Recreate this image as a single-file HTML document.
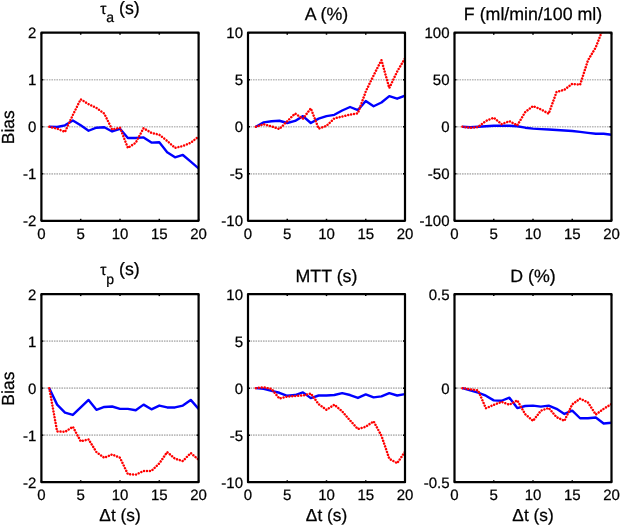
<!DOCTYPE html>
<html><head><meta charset="utf-8"><style>
html,body{margin:0;padding:0;background:#fff;}
body{width:620px;height:525px;overflow:hidden;}
svg{display:block;filter:blur(0.3px);}
text{font-family:"Liberation Sans",sans-serif;fill:#000;stroke:#000;stroke-width:0.25px;text-rendering:geometricPrecision;}
.tk{font-size:15px;}
.lb{font-size:17.8px;}
.ax{fill:none;stroke:#000;stroke-width:2.2;stroke-linejoin:round;}
.t{stroke:#000;stroke-width:1.5;}
.g{stroke:#bcbcbc;stroke-width:1.7;stroke-dasharray:1.6 0.9;}
.b{fill:none;stroke:#0000ff;stroke-width:2.4;stroke-linejoin:round;}
.r{fill:none;stroke:#ff0000;stroke-width:2.5;stroke-dasharray:0.01 2.95;stroke-linecap:round;stroke-linejoin:round;}
</style></head><body>
<svg width="620" height="525" viewBox="0 0 620 525">
<defs><clipPath id="c0"><rect x="41.40" y="32.70" width="157.20" height="188.10"/></clipPath>
<clipPath id="c1"><rect x="248.00" y="32.70" width="157.00" height="188.10"/></clipPath>
<clipPath id="c2"><rect x="454.50" y="32.70" width="157.00" height="188.10"/></clipPath>
<clipPath id="c3"><rect x="41.40" y="294.10" width="157.20" height="188.10"/></clipPath>
<clipPath id="c4"><rect x="248.00" y="294.10" width="157.00" height="188.10"/></clipPath>
<clipPath id="c5"><rect x="454.50" y="294.10" width="157.00" height="188.10"/></clipPath></defs>
<line class="g" x1="41.40" y1="79.73" x2="198.60" y2="79.73"/>
<line class="g" x1="41.40" y1="126.75" x2="198.60" y2="126.75"/>
<line class="g" x1="41.40" y1="173.78" x2="198.60" y2="173.78"/>
<g clip-path="url(#c0)"><polyline class="b" points="49.26,126.75 57.12,126.99 64.98,125.34 72.84,120.40 80.70,125.34 88.56,130.75 96.42,127.69 104.28,127.22 112.14,131.45 120.00,128.82 127.86,137.94 135.72,137.94 143.58,137.42 151.44,142.60 159.30,142.27 167.16,152.14 175.02,157.32 182.88,154.97 190.74,161.55 198.60,168.37"/><polyline class="r" points="49.26,126.75 57.12,128.63 64.98,131.92 72.84,114.99 80.70,99.24 88.56,104.18 96.42,107.94 104.28,113.58 112.14,129.57 120.00,127.69 127.86,147.91 135.72,142.74 143.58,128.16 151.44,132.86 159.30,134.74 167.16,140.86 175.02,147.91 182.88,146.03 190.74,142.74 198.60,136.63"/></g>
<line class="t" x1="41.40" y1="220.80" x2="41.40" y2="218.80"/>
<line class="t" x1="41.40" y1="32.70" x2="41.40" y2="34.70"/>
<text class="tk" x="41.40" y="238.50" text-anchor="middle">0</text>
<line class="t" x1="80.70" y1="220.80" x2="80.70" y2="218.80"/>
<line class="t" x1="80.70" y1="32.70" x2="80.70" y2="34.70"/>
<text class="tk" x="80.70" y="238.50" text-anchor="middle">5</text>
<line class="t" x1="120.00" y1="220.80" x2="120.00" y2="218.80"/>
<line class="t" x1="120.00" y1="32.70" x2="120.00" y2="34.70"/>
<text class="tk" x="120.00" y="238.50" text-anchor="middle">10</text>
<line class="t" x1="159.30" y1="220.80" x2="159.30" y2="218.80"/>
<line class="t" x1="159.30" y1="32.70" x2="159.30" y2="34.70"/>
<text class="tk" x="159.30" y="238.50" text-anchor="middle">15</text>
<line class="t" x1="198.60" y1="220.80" x2="198.60" y2="218.80"/>
<line class="t" x1="198.60" y1="32.70" x2="198.60" y2="34.70"/>
<text class="tk" x="198.60" y="238.50" text-anchor="middle">20</text>
<line class="t" x1="41.40" y1="32.70" x2="43.40" y2="32.70"/>
<line class="t" x1="198.60" y1="32.70" x2="196.60" y2="32.70"/>
<text class="tk" x="36.40" y="38.20" text-anchor="end">2</text>
<line class="t" x1="41.40" y1="79.73" x2="43.40" y2="79.73"/>
<line class="t" x1="198.60" y1="79.73" x2="196.60" y2="79.73"/>
<text class="tk" x="36.40" y="85.23" text-anchor="end">1</text>
<line class="t" x1="41.40" y1="126.75" x2="43.40" y2="126.75"/>
<line class="t" x1="198.60" y1="126.75" x2="196.60" y2="126.75"/>
<text class="tk" x="36.40" y="132.25" text-anchor="end">0</text>
<line class="t" x1="41.40" y1="173.78" x2="43.40" y2="173.78"/>
<line class="t" x1="198.60" y1="173.78" x2="196.60" y2="173.78"/>
<text class="tk" x="36.40" y="179.28" text-anchor="end">-1</text>
<line class="t" x1="41.40" y1="220.80" x2="43.40" y2="220.80"/>
<line class="t" x1="198.60" y1="220.80" x2="196.60" y2="220.80"/>
<text class="tk" x="36.40" y="226.30" text-anchor="end">-2</text>
<rect class="ax" x="41.40" y="32.70" width="157.20" height="188.10"/>
<text class="lb" x="120.00" y="13.80" text-anchor="middle"><tspan font-size="15.5">&#964;</tspan><tspan font-size="14" dy="8.3">a</tspan><tspan dy="-8.3"> (s)</tspan></text>
<text class="lb" transform="translate(13.7,127.25) rotate(-90)" text-anchor="middle" style="font-size:17.5px">Bias</text>
<line class="g" x1="248.00" y1="79.73" x2="405.00" y2="79.73"/>
<line class="g" x1="248.00" y1="126.75" x2="405.00" y2="126.75"/>
<line class="g" x1="248.00" y1="173.78" x2="405.00" y2="173.78"/>
<g clip-path="url(#c1)"><polyline class="b" points="255.85,126.75 263.70,122.42 271.55,121.20 279.40,120.73 287.25,122.99 295.10,120.92 302.95,116.12 310.80,122.99 318.65,118.66 326.50,116.12 334.35,114.81 342.20,110.48 350.05,107.00 357.90,110.10 365.75,100.98 373.60,106.25 381.45,102.49 389.30,96.18 397.15,98.72 405.00,95.71"/><polyline class="r" points="255.85,126.75 263.70,124.21 271.55,126.37 279.40,129.01 287.25,121.20 295.10,113.49 302.95,118.66 310.80,108.32 318.65,128.63 326.50,125.81 334.35,118.38 342.20,116.50 350.05,114.62 357.90,113.30 365.75,91.48 373.60,75.40 381.45,60.16 389.30,88.10 397.15,71.54 405.00,58.28"/></g>
<line class="t" x1="248.00" y1="220.80" x2="248.00" y2="218.80"/>
<line class="t" x1="248.00" y1="32.70" x2="248.00" y2="34.70"/>
<text class="tk" x="248.00" y="238.50" text-anchor="middle">0</text>
<line class="t" x1="287.25" y1="220.80" x2="287.25" y2="218.80"/>
<line class="t" x1="287.25" y1="32.70" x2="287.25" y2="34.70"/>
<text class="tk" x="287.25" y="238.50" text-anchor="middle">5</text>
<line class="t" x1="326.50" y1="220.80" x2="326.50" y2="218.80"/>
<line class="t" x1="326.50" y1="32.70" x2="326.50" y2="34.70"/>
<text class="tk" x="326.50" y="238.50" text-anchor="middle">10</text>
<line class="t" x1="365.75" y1="220.80" x2="365.75" y2="218.80"/>
<line class="t" x1="365.75" y1="32.70" x2="365.75" y2="34.70"/>
<text class="tk" x="365.75" y="238.50" text-anchor="middle">15</text>
<line class="t" x1="405.00" y1="220.80" x2="405.00" y2="218.80"/>
<line class="t" x1="405.00" y1="32.70" x2="405.00" y2="34.70"/>
<text class="tk" x="405.00" y="238.50" text-anchor="middle">20</text>
<line class="t" x1="248.00" y1="32.70" x2="250.00" y2="32.70"/>
<line class="t" x1="405.00" y1="32.70" x2="403.00" y2="32.70"/>
<text class="tk" x="243.00" y="38.20" text-anchor="end">10</text>
<line class="t" x1="248.00" y1="79.73" x2="250.00" y2="79.73"/>
<line class="t" x1="405.00" y1="79.73" x2="403.00" y2="79.73"/>
<text class="tk" x="243.00" y="85.23" text-anchor="end">5</text>
<line class="t" x1="248.00" y1="126.75" x2="250.00" y2="126.75"/>
<line class="t" x1="405.00" y1="126.75" x2="403.00" y2="126.75"/>
<text class="tk" x="243.00" y="132.25" text-anchor="end">0</text>
<line class="t" x1="248.00" y1="173.78" x2="250.00" y2="173.78"/>
<line class="t" x1="405.00" y1="173.78" x2="403.00" y2="173.78"/>
<text class="tk" x="243.00" y="179.28" text-anchor="end">-5</text>
<line class="t" x1="248.00" y1="220.80" x2="250.00" y2="220.80"/>
<line class="t" x1="405.00" y1="220.80" x2="403.00" y2="220.80"/>
<text class="tk" x="243.00" y="226.30" text-anchor="end">-10</text>
<rect class="ax" x="248.00" y="32.70" width="157.00" height="188.10"/>
<text class="lb" x="326.50" y="20.40" text-anchor="middle">A (%)</text>
<line class="g" x1="454.50" y1="79.73" x2="611.50" y2="79.73"/>
<line class="g" x1="454.50" y1="126.75" x2="611.50" y2="126.75"/>
<line class="g" x1="454.50" y1="173.78" x2="611.50" y2="173.78"/>
<g clip-path="url(#c2)"><polyline class="b" points="462.35,126.75 470.20,127.22 478.05,126.75 485.90,126.28 493.75,125.81 501.60,125.81 509.45,125.81 517.30,126.28 525.15,127.69 533.00,128.63 540.85,129.10 548.70,129.57 556.55,130.04 564.40,130.51 572.25,130.98 580.10,131.92 587.95,132.86 595.80,133.80 603.65,133.80 611.50,134.74"/><polyline class="r" points="462.35,126.75 470.20,127.88 478.05,127.03 485.90,120.92 493.75,117.72 501.60,124.12 509.45,121.20 517.30,125.34 525.15,112.17 533.00,106.06 540.85,109.35 548.70,113.68 556.55,91.95 564.40,89.69 572.25,83.86 580.10,84.71 587.95,60.35 595.80,47.28 603.65,27.06 611.50,4.48"/></g>
<line class="t" x1="454.50" y1="220.80" x2="454.50" y2="218.80"/>
<line class="t" x1="454.50" y1="32.70" x2="454.50" y2="34.70"/>
<text class="tk" x="454.50" y="238.50" text-anchor="middle">0</text>
<line class="t" x1="493.75" y1="220.80" x2="493.75" y2="218.80"/>
<line class="t" x1="493.75" y1="32.70" x2="493.75" y2="34.70"/>
<text class="tk" x="493.75" y="238.50" text-anchor="middle">5</text>
<line class="t" x1="533.00" y1="220.80" x2="533.00" y2="218.80"/>
<line class="t" x1="533.00" y1="32.70" x2="533.00" y2="34.70"/>
<text class="tk" x="533.00" y="238.50" text-anchor="middle">10</text>
<line class="t" x1="572.25" y1="220.80" x2="572.25" y2="218.80"/>
<line class="t" x1="572.25" y1="32.70" x2="572.25" y2="34.70"/>
<text class="tk" x="572.25" y="238.50" text-anchor="middle">15</text>
<line class="t" x1="611.50" y1="220.80" x2="611.50" y2="218.80"/>
<line class="t" x1="611.50" y1="32.70" x2="611.50" y2="34.70"/>
<text class="tk" x="611.50" y="238.50" text-anchor="middle">20</text>
<line class="t" x1="454.50" y1="32.70" x2="456.50" y2="32.70"/>
<line class="t" x1="611.50" y1="32.70" x2="609.50" y2="32.70"/>
<text class="tk" x="449.50" y="38.20" text-anchor="end">100</text>
<line class="t" x1="454.50" y1="79.73" x2="456.50" y2="79.73"/>
<line class="t" x1="611.50" y1="79.73" x2="609.50" y2="79.73"/>
<text class="tk" x="449.50" y="85.23" text-anchor="end">50</text>
<line class="t" x1="454.50" y1="126.75" x2="456.50" y2="126.75"/>
<line class="t" x1="611.50" y1="126.75" x2="609.50" y2="126.75"/>
<text class="tk" x="449.50" y="132.25" text-anchor="end">0</text>
<line class="t" x1="454.50" y1="173.78" x2="456.50" y2="173.78"/>
<line class="t" x1="611.50" y1="173.78" x2="609.50" y2="173.78"/>
<text class="tk" x="449.50" y="179.28" text-anchor="end">-50</text>
<line class="t" x1="454.50" y1="220.80" x2="456.50" y2="220.80"/>
<line class="t" x1="611.50" y1="220.80" x2="609.50" y2="220.80"/>
<text class="tk" x="449.50" y="226.30" text-anchor="end">-100</text>
<rect class="ax" x="454.50" y="32.70" width="157.00" height="188.10"/>
<text class="lb" x="533.00" y="20.40" text-anchor="middle">F (ml/min/100 ml)</text>
<line class="g" x1="41.40" y1="341.12" x2="198.60" y2="341.12"/>
<line class="g" x1="41.40" y1="388.15" x2="198.60" y2="388.15"/>
<line class="g" x1="41.40" y1="435.18" x2="198.60" y2="435.18"/>
<g clip-path="url(#c3)"><polyline class="b" points="49.26,388.15 57.12,404.61 64.98,412.60 72.84,414.95 80.70,407.43 88.56,399.91 96.42,409.78 104.28,406.96 112.14,406.49 120.00,408.84 127.86,408.84 135.72,410.25 143.58,404.61 151.44,409.31 159.30,405.55 167.16,407.43 175.02,407.43 182.88,405.55 190.74,399.91 198.60,408.84"/><polyline class="r" points="49.26,388.15 57.12,431.41 64.98,431.88 72.84,426.71 80.70,441.29 88.56,439.41 96.42,452.10 104.28,457.75 112.14,454.46 120.00,457.75 127.86,474.21 135.72,474.68 143.58,470.91 151.44,470.91 159.30,463.39 167.16,452.10 175.02,458.69 182.88,461.04 190.74,453.04 198.60,459.63"/></g>
<line class="t" x1="41.40" y1="482.20" x2="41.40" y2="480.20"/>
<line class="t" x1="41.40" y1="294.10" x2="41.40" y2="296.10"/>
<text class="tk" x="41.40" y="499.90" text-anchor="middle">0</text>
<line class="t" x1="80.70" y1="482.20" x2="80.70" y2="480.20"/>
<line class="t" x1="80.70" y1="294.10" x2="80.70" y2="296.10"/>
<text class="tk" x="80.70" y="499.90" text-anchor="middle">5</text>
<line class="t" x1="120.00" y1="482.20" x2="120.00" y2="480.20"/>
<line class="t" x1="120.00" y1="294.10" x2="120.00" y2="296.10"/>
<text class="tk" x="120.00" y="499.90" text-anchor="middle">10</text>
<line class="t" x1="159.30" y1="482.20" x2="159.30" y2="480.20"/>
<line class="t" x1="159.30" y1="294.10" x2="159.30" y2="296.10"/>
<text class="tk" x="159.30" y="499.90" text-anchor="middle">15</text>
<line class="t" x1="198.60" y1="482.20" x2="198.60" y2="480.20"/>
<line class="t" x1="198.60" y1="294.10" x2="198.60" y2="296.10"/>
<text class="tk" x="198.60" y="499.90" text-anchor="middle">20</text>
<line class="t" x1="41.40" y1="294.10" x2="43.40" y2="294.10"/>
<line class="t" x1="198.60" y1="294.10" x2="196.60" y2="294.10"/>
<text class="tk" x="36.40" y="299.60" text-anchor="end">2</text>
<line class="t" x1="41.40" y1="341.12" x2="43.40" y2="341.12"/>
<line class="t" x1="198.60" y1="341.12" x2="196.60" y2="341.12"/>
<text class="tk" x="36.40" y="346.62" text-anchor="end">1</text>
<line class="t" x1="41.40" y1="388.15" x2="43.40" y2="388.15"/>
<line class="t" x1="198.60" y1="388.15" x2="196.60" y2="388.15"/>
<text class="tk" x="36.40" y="393.65" text-anchor="end">0</text>
<line class="t" x1="41.40" y1="435.18" x2="43.40" y2="435.18"/>
<line class="t" x1="198.60" y1="435.18" x2="196.60" y2="435.18"/>
<text class="tk" x="36.40" y="440.68" text-anchor="end">-1</text>
<line class="t" x1="41.40" y1="482.20" x2="43.40" y2="482.20"/>
<line class="t" x1="198.60" y1="482.20" x2="196.60" y2="482.20"/>
<text class="tk" x="36.40" y="487.70" text-anchor="end">-2</text>
<rect class="ax" x="41.40" y="294.10" width="157.20" height="188.10"/>
<text class="lb" x="120.00" y="275.20" text-anchor="middle"><tspan font-size="15.5">&#964;</tspan><tspan font-size="14" dy="8.3">p</tspan><tspan dy="-8.3"> (s)</tspan></text>
<text class="lb" transform="translate(13.7,388.65) rotate(-90)" text-anchor="middle" style="font-size:17.5px">Bias</text>
<text class="lb" x="120.00" y="520.60" text-anchor="middle" style="font-size:17.3px">&#916;t (s)</text>
<line class="g" x1="248.00" y1="341.12" x2="405.00" y2="341.12"/>
<line class="g" x1="248.00" y1="388.15" x2="405.00" y2="388.15"/>
<line class="g" x1="248.00" y1="435.18" x2="405.00" y2="435.18"/>
<g clip-path="url(#c4)"><polyline class="b" points="255.85,388.15 263.70,388.90 271.55,390.88 279.40,392.76 287.25,395.77 295.10,395.02 302.95,392.38 310.80,398.12 318.65,395.49 326.50,395.49 334.35,395.02 342.20,393.13 350.05,395.02 357.90,397.93 365.75,394.45 373.60,397.37 381.45,396.43 389.30,393.13 397.15,395.49 405.00,394.08"/><polyline class="r" points="255.85,388.15 263.70,387.40 271.55,388.90 279.40,398.50 287.25,396.52 295.10,396.05 302.95,395.49 310.80,393.51 318.65,404.14 326.50,409.78 334.35,404.70 342.20,411.38 350.05,420.41 357.90,429.06 365.75,426.71 373.60,421.35 381.45,435.74 389.30,458.69 397.15,463.20 405.00,451.73"/></g>
<line class="t" x1="248.00" y1="482.20" x2="248.00" y2="480.20"/>
<line class="t" x1="248.00" y1="294.10" x2="248.00" y2="296.10"/>
<text class="tk" x="248.00" y="499.90" text-anchor="middle">0</text>
<line class="t" x1="287.25" y1="482.20" x2="287.25" y2="480.20"/>
<line class="t" x1="287.25" y1="294.10" x2="287.25" y2="296.10"/>
<text class="tk" x="287.25" y="499.90" text-anchor="middle">5</text>
<line class="t" x1="326.50" y1="482.20" x2="326.50" y2="480.20"/>
<line class="t" x1="326.50" y1="294.10" x2="326.50" y2="296.10"/>
<text class="tk" x="326.50" y="499.90" text-anchor="middle">10</text>
<line class="t" x1="365.75" y1="482.20" x2="365.75" y2="480.20"/>
<line class="t" x1="365.75" y1="294.10" x2="365.75" y2="296.10"/>
<text class="tk" x="365.75" y="499.90" text-anchor="middle">15</text>
<line class="t" x1="405.00" y1="482.20" x2="405.00" y2="480.20"/>
<line class="t" x1="405.00" y1="294.10" x2="405.00" y2="296.10"/>
<text class="tk" x="405.00" y="499.90" text-anchor="middle">20</text>
<line class="t" x1="248.00" y1="294.10" x2="250.00" y2="294.10"/>
<line class="t" x1="405.00" y1="294.10" x2="403.00" y2="294.10"/>
<text class="tk" x="243.00" y="299.60" text-anchor="end">10</text>
<line class="t" x1="248.00" y1="341.12" x2="250.00" y2="341.12"/>
<line class="t" x1="405.00" y1="341.12" x2="403.00" y2="341.12"/>
<text class="tk" x="243.00" y="346.62" text-anchor="end">5</text>
<line class="t" x1="248.00" y1="388.15" x2="250.00" y2="388.15"/>
<line class="t" x1="405.00" y1="388.15" x2="403.00" y2="388.15"/>
<text class="tk" x="243.00" y="393.65" text-anchor="end">0</text>
<line class="t" x1="248.00" y1="435.18" x2="250.00" y2="435.18"/>
<line class="t" x1="405.00" y1="435.18" x2="403.00" y2="435.18"/>
<text class="tk" x="243.00" y="440.68" text-anchor="end">-5</text>
<line class="t" x1="248.00" y1="482.20" x2="250.00" y2="482.20"/>
<line class="t" x1="405.00" y1="482.20" x2="403.00" y2="482.20"/>
<text class="tk" x="243.00" y="487.70" text-anchor="end">-10</text>
<rect class="ax" x="248.00" y="294.10" width="157.00" height="188.10"/>
<text class="lb" x="326.50" y="281.80" text-anchor="middle">MTT (s)</text>
<text class="lb" x="326.50" y="520.60" text-anchor="middle" style="font-size:17.3px">&#916;t (s)</text>
<line class="g" x1="454.50" y1="388.15" x2="611.50" y2="388.15"/>
<g clip-path="url(#c5)"><polyline class="b" points="462.35,388.15 470.20,390.41 478.05,392.66 485.90,395.67 493.75,400.38 501.60,400.75 509.45,397.74 517.30,408.09 525.15,406.02 533.00,405.64 540.85,406.58 548.70,405.64 556.55,408.84 564.40,413.92 572.25,410.72 580.10,418.25 587.95,418.25 595.80,417.49 603.65,423.51 611.50,422.76"/><polyline class="r" points="462.35,388.15 470.20,389.37 478.05,390.41 485.90,408.28 493.75,404.89 501.60,401.88 509.45,404.70 517.30,400.38 525.15,414.11 533.00,420.88 540.85,410.72 548.70,407.90 556.55,417.12 564.40,420.88 572.25,404.33 580.10,398.68 587.95,402.45 595.80,414.48 603.65,408.84 611.50,403.95"/></g>
<line class="t" x1="454.50" y1="482.20" x2="454.50" y2="480.20"/>
<line class="t" x1="454.50" y1="294.10" x2="454.50" y2="296.10"/>
<text class="tk" x="454.50" y="499.90" text-anchor="middle">0</text>
<line class="t" x1="493.75" y1="482.20" x2="493.75" y2="480.20"/>
<line class="t" x1="493.75" y1="294.10" x2="493.75" y2="296.10"/>
<text class="tk" x="493.75" y="499.90" text-anchor="middle">5</text>
<line class="t" x1="533.00" y1="482.20" x2="533.00" y2="480.20"/>
<line class="t" x1="533.00" y1="294.10" x2="533.00" y2="296.10"/>
<text class="tk" x="533.00" y="499.90" text-anchor="middle">10</text>
<line class="t" x1="572.25" y1="482.20" x2="572.25" y2="480.20"/>
<line class="t" x1="572.25" y1="294.10" x2="572.25" y2="296.10"/>
<text class="tk" x="572.25" y="499.90" text-anchor="middle">15</text>
<line class="t" x1="611.50" y1="482.20" x2="611.50" y2="480.20"/>
<line class="t" x1="611.50" y1="294.10" x2="611.50" y2="296.10"/>
<text class="tk" x="611.50" y="499.90" text-anchor="middle">20</text>
<line class="t" x1="454.50" y1="294.10" x2="456.50" y2="294.10"/>
<line class="t" x1="611.50" y1="294.10" x2="609.50" y2="294.10"/>
<text class="tk" x="449.50" y="299.60" text-anchor="end">0.5</text>
<line class="t" x1="454.50" y1="388.15" x2="456.50" y2="388.15"/>
<line class="t" x1="611.50" y1="388.15" x2="609.50" y2="388.15"/>
<text class="tk" x="449.50" y="393.65" text-anchor="end">0</text>
<line class="t" x1="454.50" y1="482.20" x2="456.50" y2="482.20"/>
<line class="t" x1="611.50" y1="482.20" x2="609.50" y2="482.20"/>
<text class="tk" x="449.50" y="487.70" text-anchor="end">-0.5</text>
<rect class="ax" x="454.50" y="294.10" width="157.00" height="188.10"/>
<text class="lb" x="533.00" y="281.80" text-anchor="middle">D (%)</text>
<text class="lb" x="533.00" y="520.60" text-anchor="middle" style="font-size:17.3px">&#916;t (s)</text>
</svg>
</body></html>
